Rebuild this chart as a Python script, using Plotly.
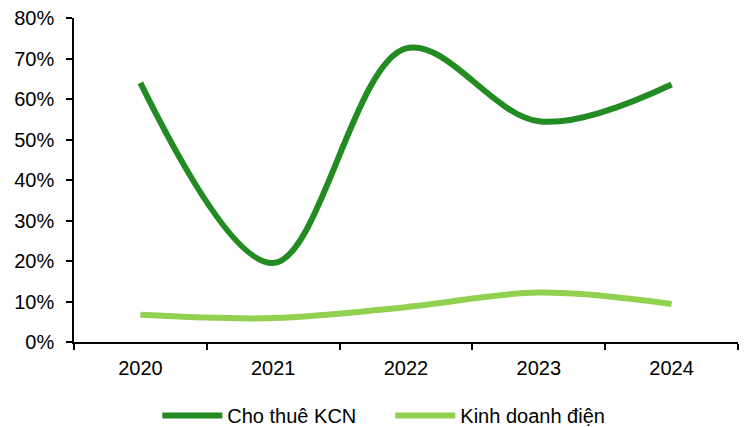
import plotly.graph_objects as go

years = ["2020", "2021", "2022", "2023", "2024"]
cho_thue_kcn = [0.640, 0.195, 0.725, 0.545, 0.636]
kinh_doanh_dien = [0.067, 0.059, 0.086, 0.122, 0.094]

fig = go.Figure()
fig.add_trace(go.Scatter(
    x=years, y=cho_thue_kcn, name="Cho thuê KCN", mode="lines",
    line=dict(color="#228B22", width=6, shape="spline", smoothing=1.0),
))
fig.add_trace(go.Scatter(
    x=years, y=kinh_doanh_dien, name="Kinh doanh điện", mode="lines",
    line=dict(color="#92D050", width=6, shape="spline", smoothing=1.0),
))

font = dict(family="Liberation Sans, Arial, sans-serif", size=20, color="#000000")

fig.update_layout(
    width=747, height=427,
    margin=dict(l=74, r=9, t=18, b=85, autoexpand=False),
    paper_bgcolor="white", plot_bgcolor="white",
    font=font,
    showlegend=True,
    legend=dict(orientation="h", xref="container", yref="container",
                x=0.5225, xanchor="center", y=0.027, yanchor="middle",
                font=font, itemwidth=60, entrywidth=158, traceorder="normal",
                bgcolor="rgba(0,0,0,0)"),
    xaxis=dict(
        type="category", showgrid=False, showline=True, linecolor="black", linewidth=1.5,
        ticks="outside", ticklen=6, tickcolor="black", tickwidth=1.5,
        tickson="boundaries", tickfont=font, range=[-0.5, 4.5],
        ticklabelstandoff=7,
    ),
    yaxis=dict(
        range=[0, 0.8], dtick=0.1, tickformat=".0%", showgrid=False, zeroline=False,
        showline=True, linecolor="black", linewidth=1.5,
        ticks="outside", ticklen=6, tickcolor="black", tickwidth=1.5, tickfont=font,
        ticklabelstandoff=8,
    ),
)

fig.write_html("out.html")
